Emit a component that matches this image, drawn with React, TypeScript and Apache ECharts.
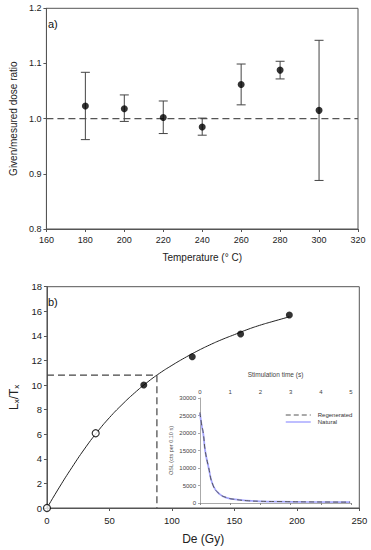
import React, { useEffect, useRef } from "react";
import * as echarts from "echarts";

// ---- Panel a) data ----
const temps = [180, 200, 220, 240, 260, 280, 300];
const ratio = [1.023, 1.018, 1.002, 0.985, 1.062, 1.088, 1.015];
const ratioLow = [0.962, 0.995, 0.973, 0.970, 1.025, 1.072, 0.888];
const ratioHigh = [1.084, 1.043, 1.032, 1.001, 1.099, 1.104, 1.142];
const refRatio = 1.0;

// ---- Panel b) data ----
const doseFilled = [77.5, 116.3, 155, 194];
const lxFilled = [10.0, 12.3, 14.15, 15.7];
const doseOpen = [0, 39];
const lxOpen = [0, 6.08];
const fitDose = [0, 10, 20, 30, 40, 50, 60, 70, 80, 90, 100, 110, 120, 130, 140, 150, 160, 170, 180, 194];
const fitLx = [0, 1.7, 3.3, 4.8, 6.15, 7.35, 8.4, 9.35, 10.2, 10.95, 11.6, 12.2, 12.75, 13.25, 13.7, 14.1, 14.5, 14.85, 15.15, 15.55];
const deDose = 88;
const deLx = 10.8;

// ---- Inset data ----
const stimTime = [0, 0.05, 0.11, 0.17, 0.28, 0.44, 0.66, 0.9, 1.1, 1.55, 2.0, 2.65, 3.5, 4.97];
const oslRegen = [25900, 22600, 19900, 15100, 10400, 4900, 2500, 1500, 1100, 660, 500, 400, 320, 250];
const oslNatural = [25700, 22400, 19700, 15000, 10300, 4850, 2450, 1480, 1080, 650, 490, 390, 310, 240];

const FONT = "Liberation Sans, Arial, sans-serif";

export default function App() {
  const ref = useRef<HTMLDivElement>(null);
  useEffect(() => {
    if (!ref.current) return;
    const chart = echarts.init(ref.current, undefined, { renderer: "svg" });
    const axisCol = "#555";
    const labCol = "#222";
    const errData = temps.map((t, i) => [t, ratio[i], ratioLow[i], ratioHigh[i]]);
    const option: any = {
      animation: false,
      backgroundColor: "#fff",
      textStyle: { fontFamily: FONT },
      grid: [
        { left: 42.7, top: 8.3, width: 315.3, height: 220.7, show: true, borderColor: axisCol, borderWidth: 1, backgroundColor: "transparent" },
        { left: 43.3, top: 286.7, width: 316, height: 221.3, show: true, borderColor: axisCol, borderWidth: 1, backgroundColor: "transparent" },
        { left: 200, top: 398, width: 151, height: 105, show: false },
      ],
      xAxis: [
        {
          gridIndex: 0, type: "value", min: 160, max: 320, interval: 20,
          axisLine: { lineStyle: { color: axisCol } }, axisTick: { length: 3, lineStyle: { color: axisCol } },
          splitLine: { show: false }, axisLabel: { fontSize: 9, color: labCol, margin: 6 },
          name: "Temperature (° C)", nameLocation: "middle", nameGap: 23,
          nameTextStyle: { fontSize: 10, color: labCol },
        },
        {
          gridIndex: 1, type: "value", min: 0, max: 250, interval: 50,
          axisLine: { lineStyle: { color: axisCol } }, axisTick: { length: 3, lineStyle: { color: axisCol } },
          splitLine: { show: false }, axisLabel: { fontSize: 9.5, color: labCol, margin: 7 },
          name: "De (Gy)", nameLocation: "middle", nameGap: 25,
          nameTextStyle: { fontSize: 12, color: labCol },
        },
        {
          gridIndex: 2, type: "value", min: 0, max: 5, interval: 1, position: "top",
          axisLine: { lineStyle: { color: "#aaa" } }, axisTick: { inside: true, length: 2, lineStyle: { color: "#888" } },
          splitLine: { show: false }, axisLabel: { fontSize: 6, color: "#444", margin: 3 },
          name: "Stimulation time (s)", nameLocation: "middle", nameGap: 20,
          nameTextStyle: { fontSize: 6.5, color: "#444" },
        },
      ],
      yAxis: [
        {
          gridIndex: 0, type: "value", min: 0.8, max: 1.2, interval: 0.1,
          axisLine: { lineStyle: { color: axisCol } }, axisTick: { length: 3, lineStyle: { color: axisCol } },
          splitLine: { show: false },
          axisLabel: { fontSize: 9, color: labCol, margin: 5, formatter: (v: number) => v.toFixed(1) },
          name: "Given/mesured dose ratio", nameLocation: "middle", nameGap: 28,
          nameTextStyle: { fontSize: 10, color: labCol },
        },
        {
          gridIndex: 1, type: "value", min: 0, max: 18, interval: 2,
          axisLine: { lineStyle: { color: axisCol } }, axisTick: { length: 3, lineStyle: { color: axisCol } },
          splitLine: { show: false }, axisLabel: { fontSize: 9.5, color: labCol, margin: 5 },
          name: "{a|L}{s|x}{a|/T}{s|x}", nameLocation: "middle", nameGap: 24,
          nameTextStyle: {
            color: labCol,
            rich: {
              a: { fontSize: 12, color: labCol, fontFamily: FONT },
              s: { fontSize: 8, color: labCol, fontFamily: FONT, padding: [5, 0, 0, 0] },
            },
          },
        },
        {
          gridIndex: 2, type: "value", min: 0, max: 30000, interval: 5000,
          axisLine: { show: true, lineStyle: { color: "#aaa" } }, axisTick: { length: 2, lineStyle: { color: "#aaa" } },
          splitLine: { show: false },
          axisLabel: { fontSize: 6, color: "#444", margin: 4, formatter: (v: number) => String(v) },
          name: "OSL (cts per 0.10 s)", nameLocation: "middle", nameGap: 26,
          nameTextStyle: { fontSize: 5.5, color: "#555" },
        },
      ],
      legend: {
        left: 280, top: 407, orient: "vertical", itemGap: 1, itemWidth: 25, itemHeight: 6,
        itemStyle: { opacity: 0 },
        textStyle: { fontSize: 6, color: "#333", padding: [0, 0, 0, 2] },
        data: [
          { name: "Regenerated", lineStyle: { width: 1, color: "#555", type: [5, 3] } },
          { name: "Natural", lineStyle: { width: 1.5, color: "#a8a8ff" } },
        ],
      },
      graphic: [
        { type: "text", left: 48, top: 18, style: { text: "a)", fontSize: 11, fill: "#111", fontFamily: FONT } },
        { type: "text", left: 48, top: 296, style: { text: "b)", fontSize: 11, fill: "#111", fontFamily: FONT } },
      ],
      series: [
        {
          type: "custom", xAxisIndex: 0, yAxisIndex: 0, data: errData, encode: { x: 0, y: [2, 3] }, z: 3,
          renderItem: (params: any, api: any) => {
            const x = api.value(0);
            const pHi = api.coord([x, api.value(3)]);
            const pLo = api.coord([x, api.value(2)]);
            const w = 4.5;
            const st = { stroke: "#444", lineWidth: 1 };
            return {
              type: "group",
              children: [
                { type: "line", shape: { x1: pHi[0], y1: pHi[1], x2: pLo[0], y2: pLo[1] }, style: st },
                { type: "line", shape: { x1: pHi[0] - w, y1: pHi[1], x2: pHi[0] + w, y2: pHi[1] }, style: st },
                { type: "line", shape: { x1: pLo[0] - w, y1: pLo[1], x2: pLo[0] + w, y2: pLo[1] }, style: st },
              ],
            };
          },
        },
        {
          type: "line", xAxisIndex: 0, yAxisIndex: 0, data: [[160, refRatio], [320, refRatio]], showSymbol: false,
          lineStyle: { color: "#555", width: 1.3, type: [7, 4] }, z: 2, silent: true,
        },
        {
          type: "scatter", xAxisIndex: 0, yAxisIndex: 0, data: temps.map((t, i) => [t, ratio[i]]),
          symbolSize: 7, itemStyle: { color: "#000" }, z: 5,
        },
        {
          type: "line", xAxisIndex: 1, yAxisIndex: 1, data: fitDose.map((d, i) => [d, fitLx[i]]), smooth: true,
          showSymbol: false, lineStyle: { color: "#222", width: 1 }, z: 2,
        },
        {
          type: "line", xAxisIndex: 1, yAxisIndex: 1, data: [[0, deLx], [deDose, deLx], [deDose, 0]], showSymbol: false,
          lineStyle: { color: "#444", width: 1.2, type: [7, 4] }, z: 2,
        },
        {
          type: "scatter", xAxisIndex: 1, yAxisIndex: 1, data: doseFilled.map((d, i) => [d, lxFilled[i]]),
          symbolSize: 7, itemStyle: { color: "#000" }, z: 5,
        },
        {
          type: "scatter", xAxisIndex: 1, yAxisIndex: 1, data: doseOpen.map((d, i) => [d, lxOpen[i]]),
          symbolSize: 7, itemStyle: { color: "#fff", borderColor: "#000", borderWidth: 1.2 }, z: 5,
        },
        {
          name: "Natural", type: "line", xAxisIndex: 2, yAxisIndex: 2, data: stimTime.map((t, i) => [t, oslNatural[i]]),
          smooth: true, showSymbol: false, symbol: "none", lineStyle: { color: "#a8a8ff", width: 1.8 }, itemStyle: { color: "#a8a8ff" }, z: 3,
        },
        {
          name: "Regenerated", type: "line", xAxisIndex: 2, yAxisIndex: 2, data: stimTime.map((t, i) => [t, oslRegen[i]]),
          smooth: true, showSymbol: false, symbol: "none", lineStyle: { color: "#555", width: 1, type: [5, 3] }, itemStyle: { color: "#555" }, z: 4,
        },
      ],
    };
    chart.setOption(option);
    return () => chart.dispose();
  }, []);
  return <div ref={ref} style={{ position: "fixed", left: 0, top: 0, width: 371, height: 550 }} />;
}
